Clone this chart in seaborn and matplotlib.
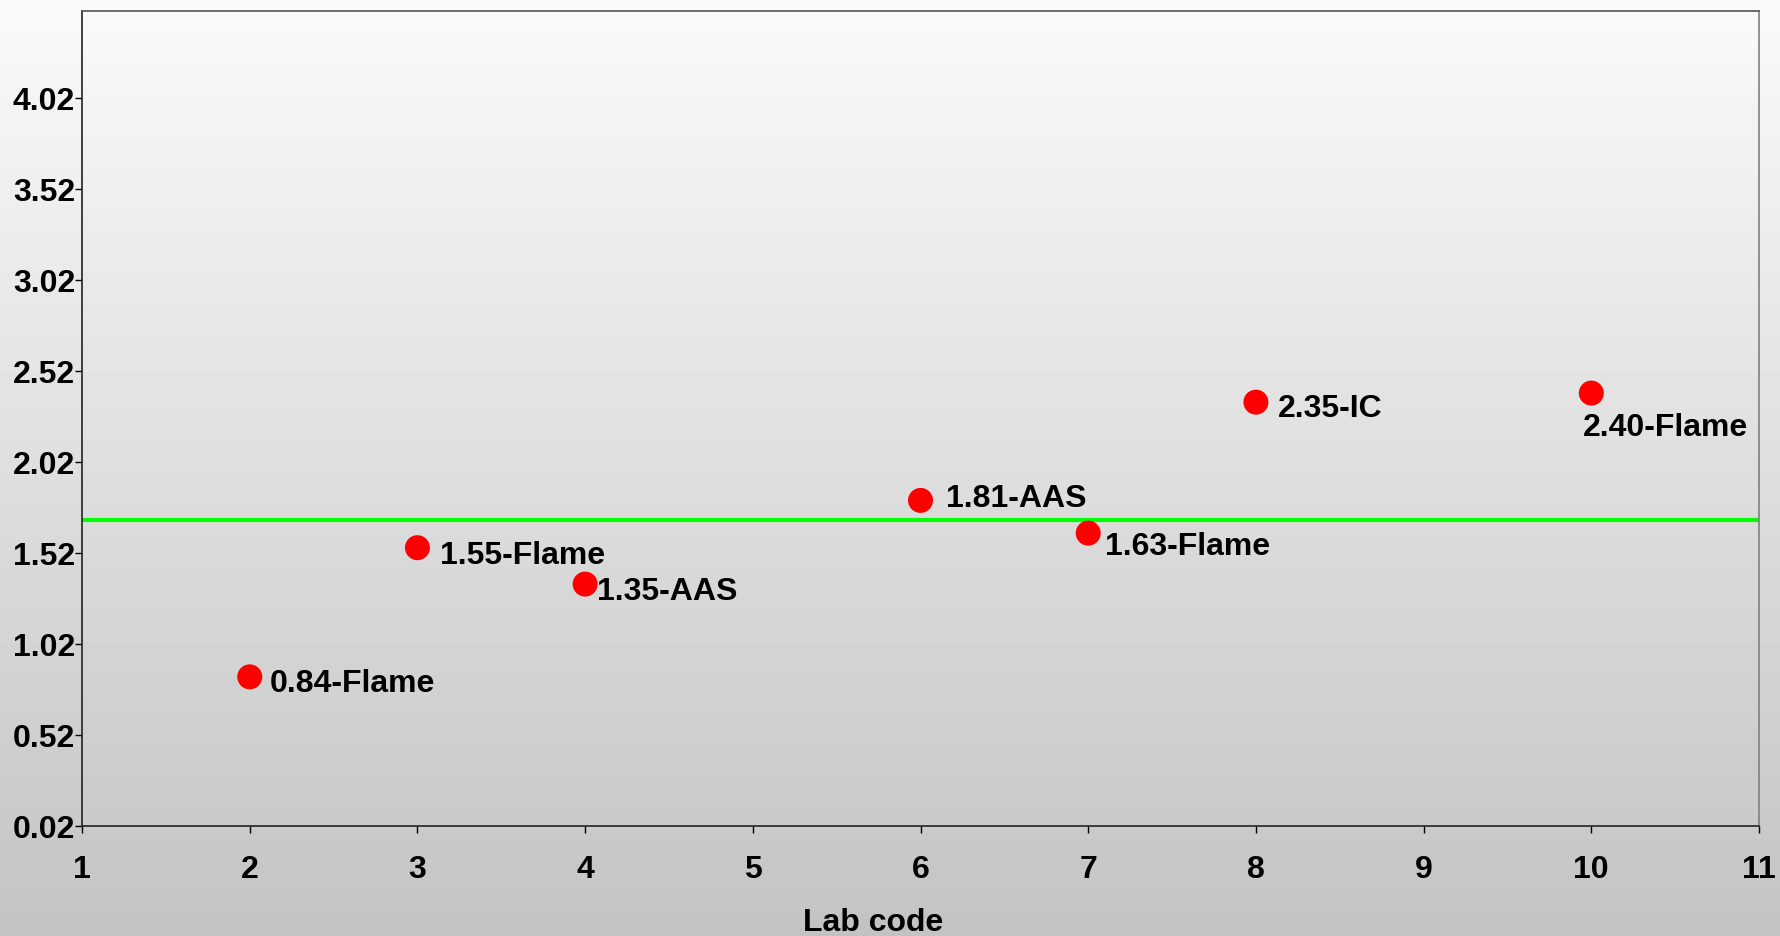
import numpy as np
import pandas as pd
import matplotlib
matplotlib.use("Agg")
import matplotlib.pyplot as plt
import seaborn as sns

# data
lab_code = [2, 3, 4, 6, 7, 8, 10]
result = [0.84, 1.55, 1.35, 1.81, 1.63, 2.35, 2.40]
method = ["Flame", "Flame", "AAS", "AAS", "Flame", "IC", "Flame"]
y_ticks = [0.02, 0.52, 1.02, 1.52, 2.02, 2.52, 3.02, 3.52, 4.02]
x_ticks = [1, 2, 3, 4, 5, 6, 7, 8, 9, 10, 11]

# label offsets in pixels (right, down)
label_offsets = [(20, 7), (23, 8), (12, 8), (25, -1), (17, 14), (22, 7), (-8, 35)]

sns.set_style("ticks")
plt.rcParams['font.family'] = ['Liberation Sans', 'DejaVu Sans']
plt.rcParams['font.weight'] = 'bold'

df = pd.DataFrame({"Lab code": lab_code, "Result": result, "Method": method})

fig = plt.figure(figsize=(17.8, 9.36), dpi=100)

# background gradient over whole figure
bg = fig.add_axes([0, 0, 1, 1], zorder=-10)
grad = np.linspace(250, 195, 256).reshape(-1, 1) / 255.0
bg.imshow(np.repeat(grad, 2, axis=1), cmap="gray", vmin=0, vmax=1,
          aspect="auto", extent=[0, 1, 0, 1])
bg.axis("off")

ax = fig.add_axes([0.0461, 0.1175, 0.9421, 0.8707])
ax.set_facecolor("none")

sns.scatterplot(data=df, x="Lab code", y="Result", color="#ff0000", s=324,
                edgecolor="none", ax=ax, zorder=3)

ax.axhline(np.mean(result), color="#00ff00", lw=3, zorder=2)

for x, y, m, (dx, dy) in zip(lab_code, result, method, label_offsets):
    ax.annotate(f"{y:.2f}-{m}", (x, y), xytext=(dx, -dy), textcoords="offset pixels",
                ha="left", va="center",
                fontsize=23, fontweight="bold", color="black", zorder=4)

ax.set_xlim(1, 11)
ax.set_ylim(0.02, 4.5)
ax.set_xticks(x_ticks)
ax.set_yticks(y_ticks)
ax.set_yticklabels([f"{t:.2f}" for t in y_ticks])
ax.tick_params(axis="y", length=5, width=1, pad=0, labelsize=23, colors="black")
ax.tick_params(axis="x", length=5, width=1, pad=16, labelsize=23, colors="black")
for lbl in ax.get_xticklabels() + ax.get_yticklabels():
    lbl.set_fontweight("bold")

ax.set_ylabel("")
ax.set_xlabel("Lab code", fontsize=23, fontweight="bold", color="black")
ax.xaxis.set_label_coords(0.472, -0.1195)
ax.xaxis.label.set_va("center")

for side in ["top", "right", "left", "bottom"]:
    ax.spines[side].set_visible(True)
    ax.spines[side].set_linewidth(1.2)
ax.spines["left"].set_color("#222222")
ax.spines["bottom"].set_color("#222222")
ax.spines["top"].set_color("#555555")
ax.spines["right"].set_color("#808080")

fig.savefig("out.png", dpi=100)
